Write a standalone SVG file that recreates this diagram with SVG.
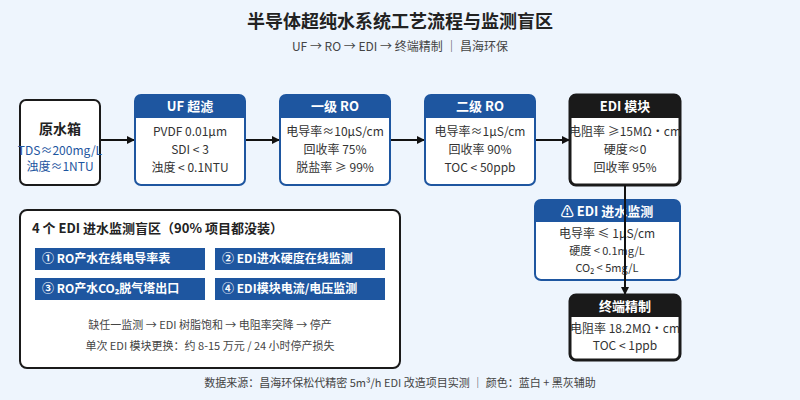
<svg xmlns="http://www.w3.org/2000/svg" width="800" height="400" viewBox="0 0 800 400">
<defs>
<marker id="ar" markerWidth="8" markerHeight="8" refX="7" refY="4" orient="auto" markerUnits="userSpaceOnUse"><path d="M0,0 L8,4 L0,8 Z" fill="#111"/></marker>
<style>
text{font-family:"Noto Sans CJK SC","Noto Sans",sans-serif;fill:#333;text-anchor:middle}
.b{fill:#fff;stroke:#1e56a0;stroke-width:2}
.k{fill:#fff;stroke:#1a1a1a;stroke-width:3}
.hb{fill:#1e56a0}
.hk{fill:#1a1a1a}
.ht{fill:#fff;font-size:13px;font-weight:bold}
.t{font-size:12px}
.c{stroke:#111;stroke-width:2;fill:none}
.tag{fill:#1e56a0}
.tt{fill:#fff;font-size:12px;font-weight:bold;text-anchor:start}
</style>
</defs>
<rect width="800" height="400" fill="#eef5fd"/>
<text x="400" y="28" style="font-size:18px;font-weight:bold;fill:#222">半导体超纯水系统工艺流程与监测盲区</text>
<text x="400" y="51" style="font-size:12px;fill:#444">UF → RO → EDI → 终端精制 ｜ 昌海环保</text>

<g id="connectors">
<line class="c" x1="100" y1="140" x2="134" y2="140" marker-end="url(#ar)"/>
<line class="c" x1="245" y1="140" x2="279" y2="140" marker-end="url(#ar)"/>
<line class="c" x1="390" y1="140" x2="424" y2="140" marker-end="url(#ar)"/>
<line class="c" x1="535" y1="140" x2="569" y2="140" marker-end="url(#ar)"/>
</g>

<g id="raw">
<rect x="20" y="100" width="80" height="85" rx="6" fill="#fff" stroke="#1a1a1a" stroke-width="2"/>
<text x="60" y="134" style="font-size:14px;font-weight:bold;fill:#222">原水箱</text>
<text x="60" y="155" class="t" style="fill:#1e56a0">TDS≈200mg/L</text>
<text x="60" y="171" class="t" style="fill:#1e56a0">浊度≈1NTU</text>
</g>

<g id="uf">
<rect class="b" x="135" y="95" width="110" height="90" rx="6"/>
<path class="hb" d="M141,95 H239 A6,6 0 0 1 245,101 V118 H135 V101 A6,6 0 0 1 141,95 Z"/>
<text class="ht" x="190" y="111">UF 超滤</text>
<text class="t" x="190" y="136">PVDF 0.01μm</text>
<text class="t" x="190" y="154">SDI &lt; 3</text>
<text class="t" x="190" y="172">浊度 &lt; 0.1NTU</text>
</g>

<g id="ro1">
<rect class="b" x="280" y="95" width="110" height="90" rx="6"/>
<path class="hb" d="M286,95 H384 A6,6 0 0 1 390,101 V118 H280 V101 A6,6 0 0 1 286,95 Z"/>
<text class="ht" x="335" y="111">一级 RO</text>
<text class="t" x="335" y="136">电导率≈10μS/cm</text>
<text class="t" x="335" y="154">回收率 75%</text>
<text class="t" x="335" y="172">脱盐率 ≥ 99%</text>
</g>

<g id="ro2">
<rect class="b" x="425" y="95" width="110" height="90" rx="6"/>
<path class="hb" d="M431,95 H529 A6,6 0 0 1 535,101 V118 H425 V101 A6,6 0 0 1 431,95 Z"/>
<text class="ht" x="480" y="111">二级 RO</text>
<text class="t" x="480" y="136">电导率≈1μS/cm</text>
<text class="t" x="480" y="154">回收率 90%</text>
<text class="t" x="480" y="172">TOC &lt; 50ppb</text>
</g>

<g id="edi">
<rect class="k" x="570" y="95" width="110" height="90" rx="6"/>
<path class="hk" d="M576,95 H674 A6,6 0 0 1 680,101 V118 H570 V101 A6,6 0 0 1 576,95 Z"/>
<text class="ht" x="625" y="111">EDI 模块</text>
<text class="t" x="625" y="136">电阻率 ≥15MΩ・cm</text>
<text class="t" x="625" y="154">硬度≈0</text>
<text class="t" x="625" y="172">回收率 95%</text>
</g>

<g id="edi-in">
<rect class="b" x="535" y="200" width="145" height="80" rx="6"/>
<path class="hb" d="M541,200 H674 A6,6 0 0 1 680,206 V222 H535 V206 A6,6 0 0 1 541,200 Z"/>
<text class="ht" x="607" y="216">⚠ EDI 进水监测</text>
<text class="t" x="607" y="238">电导率 ≤ 1μS/cm</text>
<text class="t" x="607" y="255" style="font-size:11px">硬度 &lt; 0.1mg/L</text>
<text class="t" x="607" y="272" style="font-size:11px">CO₂ &lt; 5mg/L</text>
</g>
<line class="c" x1="625" y1="185" x2="625" y2="294" marker-end="url(#ar)"/>

<g id="final">
<rect class="k" x="570" y="295" width="110" height="65" rx="6"/>
<path class="hk" d="M576,295 H674 A6,6 0 0 1 680,301 V317 H570 V301 A6,6 0 0 1 576,295 Z"/>
<text class="ht" x="625" y="311">终端精制</text>
<text class="t" x="625" y="333">电阻率 18.2MΩ・cm</text>
<text class="t" x="625" y="350">TOC &lt; 1ppb</text>
</g>

<g id="blind">
<rect x="20" y="210" width="380" height="158" rx="7" fill="#fff" stroke="#1a1a1a" stroke-width="2"/>
<text x="32" y="233" style="font-size:13px;font-weight:bold;fill:#222;text-anchor:start">4 个 EDI 进水监测盲区（90% 项目都没装）</text>
<rect class="tag" x="35" y="248" width="170" height="22"/>
<text class="tt" x="42" y="263">① RO产水在线电导率表</text>
<rect class="tag" x="215" y="248" width="170" height="22"/>
<text class="tt" x="222" y="263">② EDI进水硬度在线监测</text>
<rect class="tag" x="35" y="278" width="170" height="22"/>
<text class="tt" x="42" y="293">③ RO产水CO₂脱气塔出口</text>
<rect class="tag" x="215" y="278" width="170" height="22"/>
<text class="tt" x="222" y="293">④ EDI模块电流/电压监测</text>
<text x="210" y="329" style="font-size:11px;fill:#444">缺任一监测 → EDI 树脂饱和 → 电阻率突降 → 停产</text>
<text x="210" y="350" style="font-size:11px;fill:#444">单次 EDI 模块更换：约 8-15 万元 / 24 小时停产损失</text>
</g>

<text x="400" y="387" style="font-size:11px;fill:#444">数据来源：昌海环保松代精密 5m³/h EDI 改造项目实测 ｜ 颜色：蓝白 + 黑灰辅助</text>
</svg>
